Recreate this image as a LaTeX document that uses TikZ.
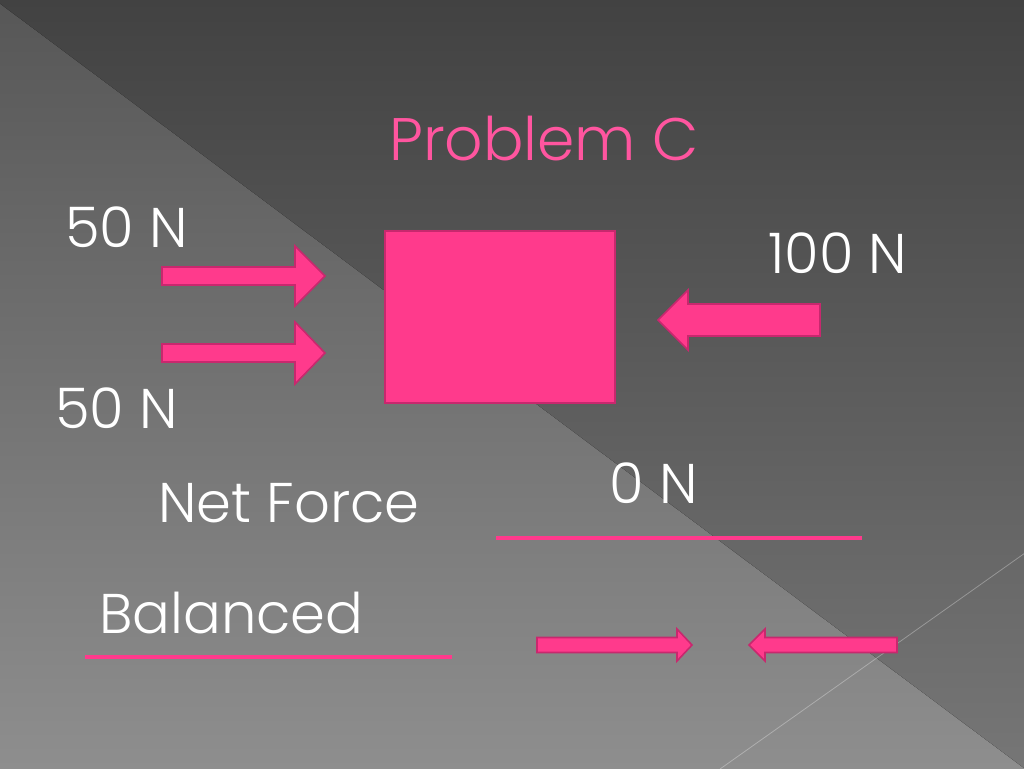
\documentclass[tikz,border=0pt]{standalone}
\usepackage{fontspec}
\setmainfont{Poppins}[UprightFont=* Light]
\usetikzlibrary{positioning}

\definecolor{bgtop}{HTML}{424242}
\definecolor{bgbottom}{HTML}{767676}
\definecolor{lighttop}{HTML}{575757}
\definecolor{lightbottom}{HTML}{8E8E8E}
\definecolor{hotpink}{HTML}{FF3A8C}
\definecolor{pinkedge}{HTML}{C8286E}
\definecolor{titlepink}{HTML}{FF559F}

% arrow: tail x, head base x, tip x, centre y, shaft half, head half
\newcommand{\pusharrow}[6]{%
  \draw[pushbody] (#1,#4-#5) -- (#2,#4-#5) -- (#2,#4-#6) -- (#3,#4)
    -- (#2,#4+#6) -- (#2,#4+#5) -- (#1,#4+#5) -- cycle;}

\begin{document}
\begin{tikzpicture} [x=1pt, y=-1pt,
          pushbody/.style = {fill=hotpink, draw=pinkedge, line width=1.6pt, line join=miter},
          caption/.style = {text=white, anchor=base west, inner sep=0pt, font=\fontsize{56}{60}\selectfont},
          blank/.style = {draw=hotpink, line width=4.5pt}
          ]
          \useasboundingbox (0,0) rectangle (1024,768);
          % background
          \fill[top color=bgtop, bottom color=bgbottom] (-1,-1) rectangle (1025,769);
          \fill[top color=lighttop, bottom color=lightbottom] (-1,3) -- (1025,769) -- (-1,769) -- cycle;
          \draw[white, opacity=0.3, line width=0.8pt] (1025,553) -- (720,769);

          \node[text=titlepink, anchor=base west, inner sep=0pt, font=\fontsize{60}{64}\selectfont] (title) at (389,160) {Problem C};

          % the block
          \node[fill=hotpink, draw=pinkedge, line width=1.6pt, minimum width=230pt, minimum height=172pt, anchor=north west, inner sep=0pt] (block) at (384,230) {};

          \pusharrow{162}{295}{325}{276}{9}{30}
          \pusharrow{162}{295}{325}{353}{9}{31}
          \pusharrow{820}{688}{658}{320}{16}{30}
          \pusharrow{537}{677}{692}{645}{7.5}{16}
          \pusharrow{897}{765}{749}{645}{7.5}{16}

          \node[caption] (topforce) at (65,247) {50 N};
          \node[caption] (lowforce) at (55,428) {50 N};
          \node[caption] (rightforce) at (768,273) {100 N};
          \node[caption] (netforce) at (158,522) {Net Force};
          \node[caption] (netvalue) at (609,503) {0 N};
          \node[caption] (balanced) at (99,633) {Balanced};

          \draw[blank] (496,538) -- (862,538);
          \draw[blank] (85,657) -- (452,657);
        \end{tikzpicture}
\end{document}
